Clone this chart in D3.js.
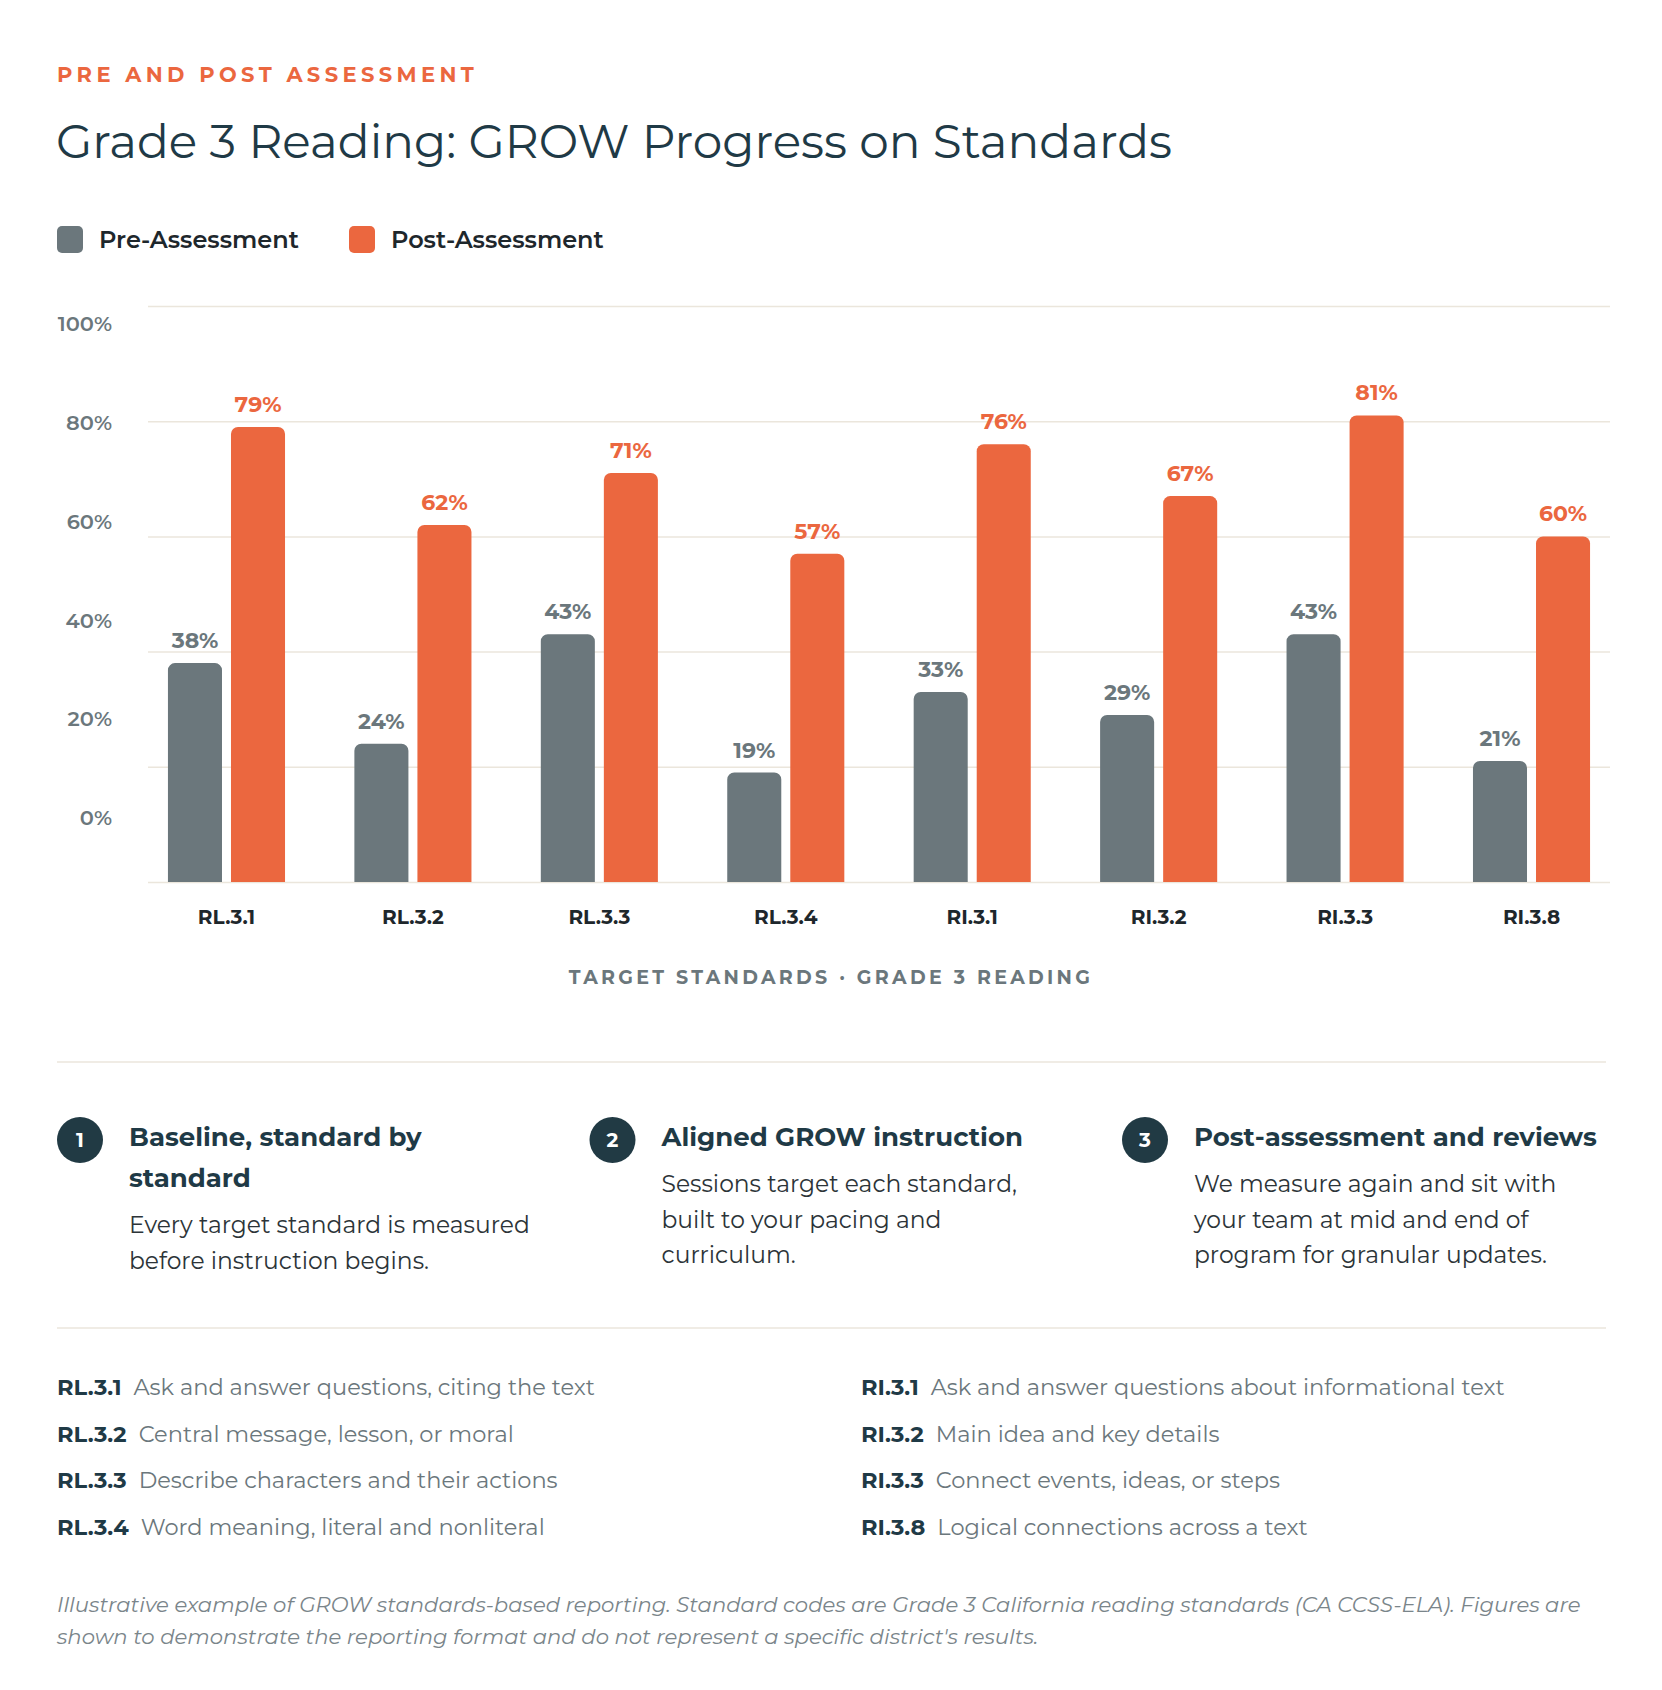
<!DOCTYPE html>
<html>
<head>
<meta charset="utf-8">
<script src="https://cdn.jsdelivr.net/npm/d3@7"></script>
<style>
  html, body { margin: 0; padding: 0; background: #ffffff; }
  svg { display: block; }
  text { font-family: Montserrat, Inter, "Open Sans", sans-serif; }
</style>
</head>
<body>
<svg id="chart" width="1662" height="1690"></svg>
<script>
// ---------- data ----------
const categories = ["RL.3.1", "RL.3.2", "RL.3.3", "RL.3.4", "RI.3.1", "RI.3.2", "RI.3.3", "RI.3.8"];
const seriesNames = ["Pre-Assessment", "Post-Assessment"];
const preValues = [38, 24, 43, 19, 33, 29, 43, 21];
const postValues = [79, 62, 71, 57, 76, 67, 81, 60];
const yTickValues = [0, 20, 40, 60, 80, 100];

const eyebrowText = "PRE AND POST ASSESSMENT";
const titleText = "Grade 3 Reading: GROW Progress on Standards";
const xAxisTitle = "TARGET STANDARDS · GRADE 3 READING";

const stepNumbers = ["1", "2", "3"];
const stepTitles = [
  ["Baseline, standard by", "standard"],
  ["Aligned GROW instruction"],
  ["Post-assessment and reviews"]
];
const stepBodies = [
  ["Every target standard is measured", "before instruction begins."],
  ["Sessions target each standard,", "built to your pacing and", "curriculum."],
  ["We measure again and sit with", "your team at mid and end of", "program for granular updates."]
];

const defCodesLeft = ["RL.3.1", "RL.3.2", "RL.3.3", "RL.3.4"];
const defTextsLeft = ["Ask and answer questions, citing the text", "Central message, lesson, or moral", "Describe characters and their actions", "Word meaning, literal and nonliteral"];
const defCodesRight = ["RI.3.1", "RI.3.2", "RI.3.3", "RI.3.8"];
const defTextsRight = ["Ask and answer questions about informational text", "Main idea and key details", "Connect events, ideas, or steps", "Logical connections across a text"];

const footnoteLines = [
  "Illustrative example of GROW standards-based reporting. Standard codes are Grade 3 California reading standards (CA CCSS-ELA). Figures are",
  "shown to demonstrate the reporting format and do not represent a specific district's results."
];

// ---------- styles ----------
const C = {
  orange: "#EB673F",
  grey: "#6B777C",
  dark: "#1F3A46",
  ink: "#1E272C",
  grid: "#EBE6DC",
  body: "#2C3438"
};

const svg = d3.select("#chart");

// ---------- header ----------
svg.append("text").attr("x", 57).attr("y", 82)
  .attr("fill", C.orange).attr("font-size", 21).attr("font-weight", 700)
  .attr("letter-spacing", 4.4).text(eyebrowText);

svg.append("text").attr("x", 56).attr("y", 158)
  .attr("fill", C.dark).attr("font-size", 47).attr("font-weight", 400)
  .text(titleText);

// legend
const legendX = [57, 349];
const legendColors = [C.grey, C.orange];
const lg = svg.append("g");
seriesNames.forEach((name, i) => {
  lg.append("rect").attr("x", legendX[i]).attr("y", 226).attr("width", 26).attr("height", 27)
    .attr("rx", 5).attr("fill", legendColors[i]);
  lg.append("text").attr("x", legendX[i] + 42).attr("y", 248)
    .attr("fill", C.ink).attr("font-size", 24).attr("font-weight", 600).text(name);
});

// ---------- chart ----------
const x0 = d3.scaleBand().domain(categories).range([148, 1610]).paddingInner(0.372).paddingOuter(0.107);
const x1 = d3.scaleBand().domain(["pre", "post"]).range([0, x0.bandwidth()]).paddingInner(1 / 7);
const y = d3.scaleLinear().domain([0, 100]).range([882, 306]);
const yLab = d3.scaleLinear().domain([0, 100]).range([818, 324]);

// gridlines
const grid = svg.append("g").attr("transform", "translate(148,0)")
  .call(d3.axisLeft(y).tickValues(yTickValues).tickSize(-(1610 - 148)).tickFormat(""));
grid.select(".domain").remove();
grid.selectAll("line").attr("stroke", C.grid).attr("stroke-width", 1.5);

// y labels
const yAx = svg.append("g").attr("transform", "translate(112,0)")
  .call(d3.axisLeft(yLab).tickValues(yTickValues).tickSize(0).tickPadding(0).tickFormat(d => d + "%"));
yAx.select(".domain").remove();
yAx.selectAll("text").attr("fill", C.grey).attr("font-size", 21).attr("font-weight", 600)
  .attr("font-family", "Montserrat, Inter, 'Open Sans', sans-serif");

// x labels
const xAx = svg.append("g").attr("transform", "translate(0,882)")
  .call(d3.axisBottom(x0).tickSize(0).tickPadding(28));
xAx.select(".domain").remove();
xAx.selectAll("text").attr("fill", C.ink).attr("font-size", 20).attr("font-weight", 700)
  .attr("font-family", "Montserrat, Inter, 'Open Sans', sans-serif");

function topRounded(x, yTop, w, h, r) {
  r = Math.min(r, h, w / 2);
  return `M${x},${yTop + h}V${yTop + r}A${r},${r} 0 0 1 ${x + r},${yTop}H${x + w - r}A${r},${r} 0 0 1 ${x + w},${yTop + r}V${yTop + h}Z`;
}

const rows = categories.map((c, i) => ({ cat: c, vals: [
  { key: "pre", v: preValues[i], color: C.grey },
  { key: "post", v: postValues[i], color: C.orange }
] }));

const groups = svg.append("g").selectAll("g").data(rows).join("g")
  .attr("transform", d => `translate(${x0(d.cat)},0)`);

groups.selectAll("path").data(d => d.vals).join("path")
  .attr("d", d => topRounded(x1(d.key), y(d.v), x1.bandwidth(), y(0) - y(d.v), 7))
  .attr("fill", d => d.color);

groups.selectAll("text.val").data(d => d.vals).join("text")
  .attr("class", "val")
  .attr("x", d => x1(d.key) + x1.bandwidth() / 2)
  .attr("y", d => y(d.v) - 15)
  .attr("text-anchor", "middle")
  .attr("fill", d => d.color)
  .attr("font-size", 22).attr("font-weight", 700)
  .text(d => d.v + "%");

// axis title
svg.append("text").attr("x", 831).attr("y", 984).attr("text-anchor", "middle")
  .attr("fill", C.grey).attr("font-size", 19).attr("font-weight", 700)
  .attr("letter-spacing", 3.3).text(xAxisTitle);

// dividers
[1062, 1328].forEach(yy => {
  svg.append("line").attr("x1", 57).attr("x2", 1606).attr("y1", yy).attr("y2", yy)
    .attr("stroke", C.grid).attr("stroke-width", 1.5);
});

// ---------- steps ----------
const colX = d3.scaleLinear().domain([0, 1]).range([57, 589.5]);
stepNumbers.forEach((n, i) => {
  const gx = colX(i);
  const g = svg.append("g");
  g.append("circle").attr("cx", gx + 23).attr("cy", 1140).attr("r", 23).attr("fill", "#213A44");
  g.append("text").attr("x", gx + 23).attr("y", 1147).attr("text-anchor", "middle")
    .attr("fill", "#fff").attr("font-size", 20).attr("font-weight", 700).text(n);
  const tx = gx + 72;
  let by = 1146;
  stepTitles[i].forEach((line, k) => {
    g.append("text").attr("x", tx).attr("y", by + k * 41)
      .attr("fill", C.dark).attr("font-size", 26).attr("font-weight", 700).text(line);
  });
  by = 1146 + (stepTitles[i].length - 1) * 41 + 46;
  stepBodies[i].forEach((line, k) => {
    g.append("text").attr("x", tx).attr("y", by + k * 35.5)
      .attr("fill", C.body).attr("font-size", 23.4).attr("font-weight", 400).text(line);
  });
});

// ---------- definitions ----------
function defList(x, codes, texts) {
  codes.forEach((code, i) => {
    const t = svg.append("text").attr("x", x).attr("y", 1395 + i * 46.7).attr("font-size", 22.5);
    t.append("tspan").attr("fill", C.dark).attr("font-weight", 700).text(code);
    t.append("tspan").attr("dx", 12).attr("fill", C.grey).attr("font-weight", 400).text(texts[i]);
  });
}
defList(57, defCodesLeft, defTextsLeft);
defList(861, defCodesRight, defTextsRight);

// ---------- footnote ----------
footnoteLines.forEach((line, i) => {
  svg.append("text").attr("x", 57).attr("y", 1612 + i * 31.5)
    .attr("fill", "#7A858A").attr("font-size", 21.2).attr("font-style", "italic").text(line);
});
</script>
</body>
</html>
